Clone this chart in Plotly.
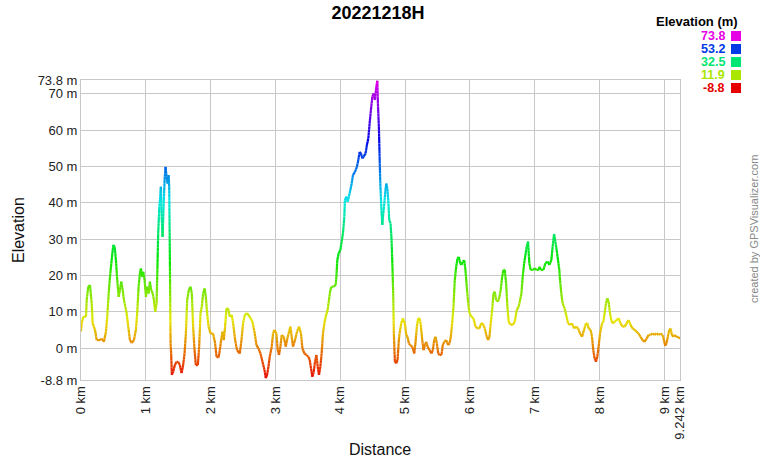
import math
import colorsys
import plotly.graph_objects as go

title_text = "20221218H"

distance_km = [
    0.000, 0.011, 0.035, 0.077, 0.088, 0.112, 0.139, 0.165, 0.180, 0.216, 0.242, 0.293, 0.319, 0.354,
    0.385, 0.405, 0.427, 0.447, 0.473, 0.498, 0.519, 0.539, 0.559, 0.581, 0.601, 0.621, 0.643, 0.663,
    0.704, 0.729, 0.755, 0.781, 0.817, 0.847, 0.867, 0.889, 0.909, 0.924, 0.940, 0.960, 0.981, 1.002,
    1.022, 1.043, 1.063, 1.083, 1.105, 1.125, 1.145, 1.166, 1.176, 1.191, 1.206, 1.222, 1.233, 1.243,
    1.259, 1.274, 1.290, 1.305, 1.320, 1.336, 1.351, 1.361, 1.371, 1.382, 1.391, 1.402, 1.422, 1.448,
    1.475, 1.499, 1.525, 1.552, 1.576, 1.598, 1.618, 1.638, 1.664, 1.690, 1.710, 1.730, 1.752, 1.772,
    1.803, 1.823, 1.844, 1.864, 1.884, 1.906, 1.926, 1.946, 1.968, 1.998, 2.038, 2.069, 2.091, 2.122,
    2.142, 2.162, 2.183, 2.203, 2.223, 2.245, 2.270, 2.296, 2.327, 2.347, 2.378, 2.408, 2.450, 2.476,
    2.501, 2.527, 2.562, 2.604, 2.646, 2.681, 2.707, 2.738, 2.769, 2.800, 2.831, 2.851, 2.871, 2.892,
    2.912, 2.943, 2.963, 2.985, 3.015, 3.035, 3.055, 3.077, 3.097, 3.128, 3.159, 3.179, 3.210, 3.231,
    3.251, 3.271, 3.302, 3.333, 3.364, 3.394, 3.416, 3.447, 3.478, 3.508, 3.529, 3.549, 3.570, 3.590,
    3.610, 3.632, 3.652, 3.672, 3.693, 3.713, 3.733, 3.755, 3.775, 3.806, 3.826, 3.847, 3.867, 3.898,
    3.929, 3.940, 3.955, 3.975, 4.002, 4.022, 4.042, 4.063, 4.072, 4.094, 4.114, 4.134, 4.156, 4.176,
    4.196, 4.227, 4.257, 4.279, 4.299, 4.319, 4.341, 4.361, 4.391, 4.411, 4.433, 4.453, 4.473, 4.495,
    4.515, 4.535, 4.556, 4.572, 4.581, 4.596, 4.607, 4.618, 4.633, 4.649, 4.664, 4.680, 4.695, 4.710,
    4.726, 4.741, 4.756, 4.776, 4.792, 4.807, 4.818, 4.827, 4.843, 4.864, 4.884, 4.904, 4.915, 4.941,
    4.966, 4.997, 5.018, 5.038, 5.058, 5.080, 5.111, 5.142, 5.162, 5.182, 5.203, 5.223, 5.243, 5.265,
    5.285, 5.305, 5.327, 5.347, 5.378, 5.408, 5.428, 5.450, 5.470, 5.490, 5.512, 5.532, 5.562, 5.582,
    5.604, 5.635, 5.666, 5.686, 5.706, 5.727, 5.747, 5.767, 5.789, 5.809, 5.829, 5.851, 5.871, 5.891,
    5.912, 5.932, 5.952, 5.974, 5.994, 6.025, 6.055, 6.086, 6.117, 6.148, 6.174, 6.199, 6.230, 6.260,
    6.282, 6.302, 6.322, 6.344, 6.364, 6.384, 6.405, 6.436, 6.456, 6.476, 6.498, 6.518, 6.538, 6.559,
    6.579, 6.599, 6.630, 6.661, 6.692, 6.723, 6.753, 6.775, 6.795, 6.815, 6.837, 6.857, 6.877, 6.898,
    6.908, 6.918, 6.938, 6.969, 7.000, 7.031, 7.062, 7.072, 7.099, 7.134, 7.165, 7.200, 7.227, 7.257,
    7.277, 7.299, 7.319, 7.339, 7.360, 7.380, 7.391, 7.411, 7.431, 7.462, 7.493, 7.514, 7.545, 7.576,
    7.607, 7.638, 7.669, 7.700, 7.730, 7.761, 7.792, 7.812, 7.832, 7.863, 7.884, 7.904, 7.924, 7.946,
    7.966, 7.986, 8.008, 8.039, 8.059, 8.079, 8.100, 8.120, 8.140, 8.162, 8.182, 8.202, 8.233, 8.263,
    8.294, 8.325, 8.356, 8.387, 8.418, 8.448, 8.479, 8.510, 8.541, 8.572, 8.602, 8.633, 8.664, 8.695,
    8.726, 8.757, 8.787, 8.818, 8.849, 8.880, 8.911, 8.941, 8.972, 8.994, 9.014, 9.034, 9.055, 9.075,
    9.096, 9.117, 9.137, 9.158, 9.179, 9.210, 9.242,
]

elevation_m = [
    4.6, 6.8, 8.6, 8.6, 13.2, 16.9, 17.3, 12.3, 6.8, 5.0, 2.2, 2.2, 2.6, 1.7,
    4.5, 8.6, 15.0, 19.6, 24.2, 28.4, 27.9, 24.2, 18.7, 14.1, 16.0, 18.3, 16.0, 13.2,
    9.6, 5.9, 2.2, 1.4, 2.2, 5.0, 9.6, 16.9, 20.6, 21.9, 19.6, 21.0, 18.7, 14.1,
    16.9, 15.0, 18.3, 16.0, 15.1, 13.2, 10.0, 12.3, 19.6, 31.6, 38.0, 41.7, 44.4, 37.1,
    30.6, 38.9, 46.3, 49.9, 47.2, 45.3, 47.6, 44.4, 25.1, 1.3, -1.5, -7.4, -6.5, -4.7,
    -3.8, -3.8, -4.7, -6.9, -4.7, -1.5, 4.0, 13.2, 16.0, 16.9, 15.0, 5.9, -0.6, -4.7,
    -4.7, 0.4, 9.6, 11.4, 15.0, 16.4, 14.1, 9.6, 5.9, 4.0, 4.0, 1.3, -2.4, -2.6,
    -0.6, 2.2, 4.5, 2.2, 5.9, 10.9, 10.9, 8.6, 9.1, 6.8, 2.2, -0.6, -1.5, 2.2,
    6.8, 9.1, 9.6, 8.6, 7.2, 4.0, 0.8, -0.1, -1.5, -3.8, -6.0, -8.3, -7.4, -5.1,
    -2.4, 0.4, 4.0, 5.0, 4.0, -0.6, -1.9, 0.4, 3.6, 3.1, 0.4, 2.2, 4.5, 5.9,
    3.1, 0.4, 2.2, 4.5, 5.9, 4.0, -0.1, -1.5, -1.9, -2.4, -3.3, -5.6, -7.9, -6.7,
    -3.8, -1.9, -5.1, -7.4, -5.1, -1.5, 4.0, 6.8, 8.6, 10.5, 13.2, 16.0, 16.9, 16.9,
    17.3, 19.6, 24.2, 26.1, 27.0, 29.3, 31.6, 36.2, 40.7, 41.7, 40.3, 41.7, 43.5, 45.3,
    47.6, 48.5, 49.9, 51.8, 54.0, 53.6, 52.2, 52.7, 53.6, 55.9, 57.7, 61.8, 65.5, 69.2,
    70.1, 68.3, 71.9, 73.6, 67.4, 60.9, 52.7, 45.3, 38.9, 33.9, 37.1, 39.8, 43.0, 45.3,
    44.0, 40.7, 35.2, 34.3, 29.7, 21.5, 14.1, 4.0, -3.8, -4.2, -3.3, 2.2, 4.0, 6.8,
    8.2, 6.8, 3.6, 3.1, 1.3, 0.8, 0.4, -1.5, 1.7, 5.9, 8.2, 8.2, 6.4, 2.2,
    -0.6, 0.8, 1.7, 0.4, -0.6, -1.5, -0.6, 2.2, 3.1, 1.3, -1.5, -1.9, -1.9, 0.8,
    1.7, 2.2, 0.8, 1.3, 3.1, 6.8, 11.4, 18.7, 22.4, 24.7, 25.1, 23.3, 22.9, 23.8,
    24.2, 21.5, 16.9, 12.3, 9.6, 8.6, 8.2, 5.9, 5.4, 5.4, 6.8, 6.8, 5.4, 3.1,
    2.2, 3.1, 6.8, 10.5, 15.0, 15.5, 13.2, 12.8, 14.1, 16.0, 19.6, 21.5, 21.5, 17.8,
    11.4, 7.2, 6.4, 6.4, 7.2, 10.5, 11.4, 13.2, 15.0, 19.6, 23.3, 25.6, 27.9, 29.3,
    26.1, 23.3, 21.5, 21.5, 21.9, 21.5, 21.5, 22.4, 21.5, 21.5, 23.3, 23.8, 22.9, 24.2,
    27.9, 31.4, 29.3, 27.0, 24.2, 21.5, 18.7, 15.0, 12.3, 10.9, 8.6, 6.8, 6.4, 6.8,
    5.4, 5.9, 5.4, 4.0, 3.1, 5.0, 6.8, 6.8, 5.4, 5.0, 3.1, -0.6, -2.8, -3.8,
    -2.4, 0.4, 4.0, 6.8, 7.2, 9.6, 12.3, 13.7, 12.8, 9.6, 7.7, 6.8, 7.2, 7.7,
    8.2, 6.8, 5.9, 5.9, 6.8, 7.7, 6.4, 5.4, 5.0, 4.5, 4.0, 3.1, 2.2, 1.7,
    2.6, 3.6, 3.6, 4.0, 3.6, 4.0, 3.6, 4.0, 3.6, 2.2, 0.6, 1.3, 3.1, 5.0,
    5.4, 3.6, 3.1, 3.6, 3.1, 3.1, 2.6,
]

y_tick_vals = [-8.8, 0, 10, 20, 30, 40, 50, 60, 70, 73.8]
y_tick_text = ["-8.8 m", "0 m", "10 m", "20 m", "30 m", "40 m", "50 m", "60 m", "70 m", "73.8 m"]
x_tick_vals = [0, 1, 2, 3, 4, 5, 6, 7, 8, 9, 9.242]
x_tick_text = ["0 km", "1 km", "2 km", "3 km", "4 km", "5 km", "6 km", "7 km", "8 km", "9 km", "9.242 km"]
legend_title = "Elevation (m)"
legend_values = [73.8, 53.2, 32.5, 11.9, -8.8]
legend_labels = ["73.8", "53.2", "32.5", "11.9", "-8.8"]

E_MIN, E_MAX = -8.8, 73.8
X_MAX = 9.242
FONT = "Liberation Sans, Arial, sans-serif"


def elev_color(e):
    f = (e - E_MIN) / (E_MAX - E_MIN)
    f = max(0.0, min(1.0, f))
    r, g, b = colorsys.hsv_to_rgb(f * 300.0 / 360.0, 1.0, 0.9)
    return "rgb(%d,%d,%d)" % (round(r * 255), round(g * 255), round(b * 255))


LEVELS = 120
groups = {}
for i in range(len(distance_km) - 1):
    x0, x1 = distance_km[i], distance_km[i + 1]
    y0, y1 = elevation_m[i], elevation_m[i + 1]
    n = max(1, int(math.ceil(abs(y1 - y0) / 1.0)))
    for k in range(n):
        a, b = k / n, (k + 1) / n
        xa, xb = x0 + (x1 - x0) * a, x0 + (x1 - x0) * b
        ya, yb = y0 + (y1 - y0) * a, y0 + (y1 - y0) * b
        f = ((ya + yb) / 2 - E_MIN) / (E_MAX - E_MIN)
        lvl = max(0, min(LEVELS, int(round(f * LEVELS))))
        gx, gy = groups.setdefault(lvl, ([], []))
        gx.extend([xa, xb, None])
        gy.extend([ya, yb, None])

fig = go.Figure()
for lvl in sorted(groups):
    gx, gy = groups[lvl]
    e = E_MIN + (E_MAX - E_MIN) * lvl / LEVELS
    fig.add_trace(go.Scatter(
        x=gx, y=gy, mode="lines",
        line=dict(color=elev_color(e), width=2.2),
        hoverinfo="skip", showlegend=False,
    ))

grid = "#c8c8c8"
axis_common = dict(
    showgrid=True, gridcolor=grid, gridwidth=1,
    showline=True, linecolor=grid, linewidth=1, mirror=True,
    zeroline=False, ticks="",
    tickfont=dict(family=FONT, size=13, color="#222"),
)
fig.update_xaxes(range=[0, X_MAX], tickmode="array", tickvals=x_tick_vals,
                 ticktext=x_tick_text, tickangle=-90, **axis_common)
fig.update_yaxes(range=[E_MIN, E_MAX], tickmode="array", tickvals=y_tick_vals,
                 ticktext=y_tick_text, **axis_common)

W, H = 760, 460
L, R, T, B = 81, 80, 80, 80
pw, ph = W - L - R, H - T - B


def px_x(p):
    return (p - L) / pw


def px_y(p):
    return (H - B - p) / ph


annotations = [
    dict(text="Elevation", x=px_x(18), y=px_y(230), xref="paper", yref="paper",
         textangle=-90, showarrow=False, xanchor="center", yanchor="middle",
         font=dict(family=FONT, size=16, color="#111")),
    dict(text="Distance", x=px_x(380), y=px_y(449), xref="paper", yref="paper",
         showarrow=False, xanchor="center", yanchor="middle",
         font=dict(family=FONT, size=16, color="#111")),
    dict(text="created by GPSVisualizer.com", x=px_x(754), y=px_y(229),
         xref="paper", yref="paper", textangle=-90, showarrow=False,
         xanchor="center", yanchor="middle",
         font=dict(family=FONT, size=11, color="#888")),
    dict(text="<b>%s</b>" % legend_title, x=px_x(740), y=px_y(22), xref="paper",
         yref="paper", showarrow=False, xanchor="right", yanchor="middle",
         font=dict(family=FONT, size=13, color="#000")),
]
shapes = []
for j, (v, lab) in enumerate(zip(legend_values, legend_labels)):
    yc = 36 + j * 13
    col = elev_color(v)
    annotations.append(dict(
        text="<b>%s</b>" % lab, x=px_x(727), y=px_y(yc), xref="paper", yref="paper",
        showarrow=False, xanchor="right", yanchor="middle",
        font=dict(family=FONT, size=12.5, color=col)))
    shapes.append(dict(
        type="rect", xref="paper", yref="paper",
        x0=px_x(731), x1=px_x(741), y0=px_y(yc + 5), y1=px_y(yc - 5),
        fillcolor=col, line=dict(width=0)))

fig.update_layout(
    width=W, height=H,
    margin=dict(l=L, r=R, t=T, b=B),
    paper_bgcolor="white", plot_bgcolor="white",
    title=dict(text="<b>%s</b>" % title_text, x=378 / W, xanchor="center",
               y=1 - 13 / H, yanchor="middle", yref="container",
               font=dict(family=FONT, size=18, color="#000")),
    annotations=annotations, shapes=shapes,
    showlegend=False,
)

fig.write_html(
    "out.html",
    config={"displayModeBar": False},
    post_script="document.body.style.margin='0';document.body.style.overflow='hidden';",
)
